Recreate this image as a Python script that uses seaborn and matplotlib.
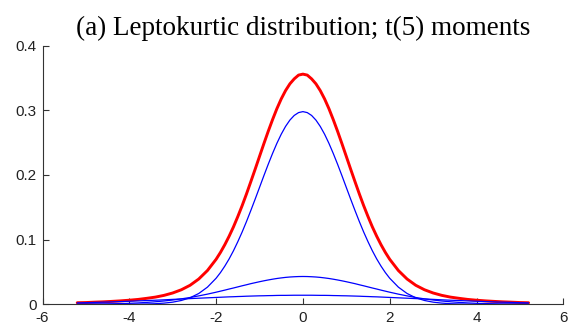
import matplotlib
matplotlib.use("Agg")
import matplotlib.pyplot as plt
import seaborn as sns
import pandas as pd

x = [-5.2, -5.0, -4.8, -4.6, -4.4, -4.2, -4.0, -3.8, -3.6, -3.4, -3.2, -3.0, -2.8, -2.6,
     -2.4, -2.2, -2.0, -1.9, -1.8, -1.7, -1.6, -1.5, -1.4, -1.3, -1.2, -1.1, -1.0, -0.9,
     -0.8, -0.7, -0.6, -0.5, -0.4, -0.3, -0.2, -0.1, 0.0,
     0.1, 0.2, 0.3, 0.4, 0.5, 0.6, 0.7, 0.8, 0.9, 1.0, 1.1, 1.2, 1.3, 1.4, 1.5, 1.6, 1.7,
     1.8, 1.9, 2.0, 2.2, 2.4, 2.6, 2.8, 3.0, 3.2, 3.4, 3.6, 3.8, 4.0, 4.2, 4.4, 4.6, 4.8,
     5.0, 5.2]

mixture = [0.0024, 0.0027, 0.0033, 0.0038, 0.0045, 0.0053, 0.0063, 0.0075, 0.0092, 0.0111,
           0.0138, 0.0175, 0.0225, 0.0294, 0.0391, 0.0522, 0.0696, 0.0802, 0.0921, 0.1053,
           0.1197, 0.1357, 0.1526, 0.1707, 0.1897, 0.2090, 0.2287, 0.2483, 0.2674, 0.2855,
           0.3025, 0.3176, 0.3305, 0.3410, 0.3487, 0.3545, 0.356,
           0.3545, 0.3487, 0.3410, 0.3305, 0.3176, 0.3025, 0.2855, 0.2674, 0.2483, 0.2287,
           0.2090, 0.1897, 0.1707, 0.1526, 0.1357, 0.1197, 0.1053, 0.0921, 0.0802, 0.0696,
           0.0522, 0.0391, 0.0294, 0.0225, 0.0175, 0.0138, 0.0111, 0.0092, 0.0075, 0.0063,
           0.0053, 0.0045, 0.0038, 0.0033, 0.0027, 0.0024]

comp_narrow = [0.0, 0.0, 0.0, 0.0, 0.0, 0.0, 0.0001, 0.0002, 0.0005, 0.0009, 0.0018, 0.0033,
               0.0059, 0.0101, 0.0167, 0.0265, 0.0403, 0.0490, 0.0590, 0.0702, 0.0828, 0.0968,
               0.1118, 0.1280, 0.1451, 0.1627, 0.1807, 0.1988, 0.2164, 0.2332, 0.2489, 0.2630,
               0.2751, 0.2849, 0.2921, 0.2965, 0.298,
               0.2965, 0.2921, 0.2849, 0.2751, 0.2630, 0.2489, 0.2332, 0.2164, 0.1988, 0.1807,
               0.1627, 0.1451, 0.1280, 0.1118, 0.0968, 0.0828, 0.0702, 0.0590, 0.0490, 0.0403,
               0.0265, 0.0167, 0.0101, 0.0059, 0.0033, 0.0018, 0.0009, 0.0005, 0.0002, 0.0001,
               0.0, 0.0, 0.0, 0.0, 0.0, 0.0]

comp_middle = [0.0002, 0.0002, 0.0004, 0.0005, 0.0008, 0.0011, 0.0015, 0.0021, 0.0029, 0.0039,
               0.0051, 0.0066, 0.0084, 0.0105, 0.0130, 0.0157, 0.0187, 0.0203, 0.0219, 0.0236,
               0.0252, 0.0269, 0.0286, 0.0302, 0.0319, 0.0334, 0.0349, 0.0363, 0.0376, 0.0388,
               0.0399, 0.0408, 0.0416, 0.0422, 0.0426, 0.0429, 0.0430,
               0.0429, 0.0426, 0.0422, 0.0416, 0.0408, 0.0399, 0.0388, 0.0376, 0.0363, 0.0349,
               0.0334, 0.0319, 0.0302, 0.0286, 0.0269, 0.0252, 0.0236, 0.0219, 0.0203, 0.0187,
               0.0157, 0.0130, 0.0105, 0.0084, 0.0066, 0.0051, 0.0039, 0.0029, 0.0021, 0.0015,
               0.0011, 0.0008, 0.0005, 0.0004, 0.0002, 0.0002]

comp_wide = [0.0022, 0.0025, 0.0029, 0.0033, 0.0037, 0.0042, 0.0047, 0.0052, 0.0058, 0.0063,
             0.0069, 0.0076, 0.0082, 0.0088, 0.0094, 0.0100, 0.0106, 0.0109, 0.0112, 0.0115,
             0.0117, 0.0120, 0.0122, 0.0125, 0.0127, 0.0129, 0.0131, 0.0132, 0.0134, 0.0135,
             0.0137, 0.0138, 0.0138, 0.0139, 0.0140, 0.0140, 0.0140,
             0.0140, 0.0140, 0.0139, 0.0138, 0.0138, 0.0137, 0.0135, 0.0134, 0.0132, 0.0131,
             0.0129, 0.0127, 0.0125, 0.0122, 0.0120, 0.0117, 0.0115, 0.0112, 0.0109, 0.0106,
             0.0100, 0.0094, 0.0088, 0.0082, 0.0076, 0.0069, 0.0063, 0.0058, 0.0052, 0.0047,
             0.0042, 0.0037, 0.0033, 0.0029, 0.0025, 0.0022]

x_ticks = [-6, -4, -2, 0, 2, 4, 6]
y_ticks = [0, 0.1, 0.2, 0.3, 0.4]
y_tick_labels = ["0", "0.1", "0.2", "0.3", "0.4"]
title = "(a) Leptokurtic distribution; t(5) moments"

sns.set_theme(style="ticks")
plt.rcParams["font.family"] = ["Liberation Sans", "DejaVu Sans"]

fig = plt.figure(figsize=(5.69, 3.31), dpi=100)
ax = fig.add_axes([0.0747, 0.0807, 0.9153, 0.7813])

df = pd.DataFrame({"x": x, "mixture": mixture, "narrow": comp_narrow,
                   "middle": comp_middle, "wide": comp_wide})

sns.lineplot(data=df, x="x", y="mixture", color="#ff0000", linewidth=2.1, ax=ax)
for col in ["narrow", "middle", "wide"]:
    sns.lineplot(data=df, x="x", y=col, color="#0000ff", linewidth=0.9, ax=ax)

ax.set_xlim(-6, 6)
ax.set_ylim(0, 0.4)
ax.set_xticks(x_ticks)
ax.set_xticklabels([str(t) for t in x_ticks])
ax.set_yticks(y_ticks)
ax.set_yticklabels(y_tick_labels)
ax.set_xlabel("")
ax.set_ylabel("")

for s in ["top", "right"]:
    ax.spines[s].set_visible(False)
for s in ["left", "bottom"]:
    ax.spines[s].set_color("#333333")
    ax.spines[s].set_linewidth(0.8)

ax.tick_params(direction="in", length=4, width=0.8, color="#333333",
               labelsize=11, labelcolor="#222222")
ax.tick_params(axis="y", pad=4)
ax.tick_params(axis="x", pad=5)

ax.set_title(title, fontsize=19.5, family=["Liberation Serif", "DejaVu Serif"],
             color="black", pad=8)

fig.savefig("out.png", dpi=100)
